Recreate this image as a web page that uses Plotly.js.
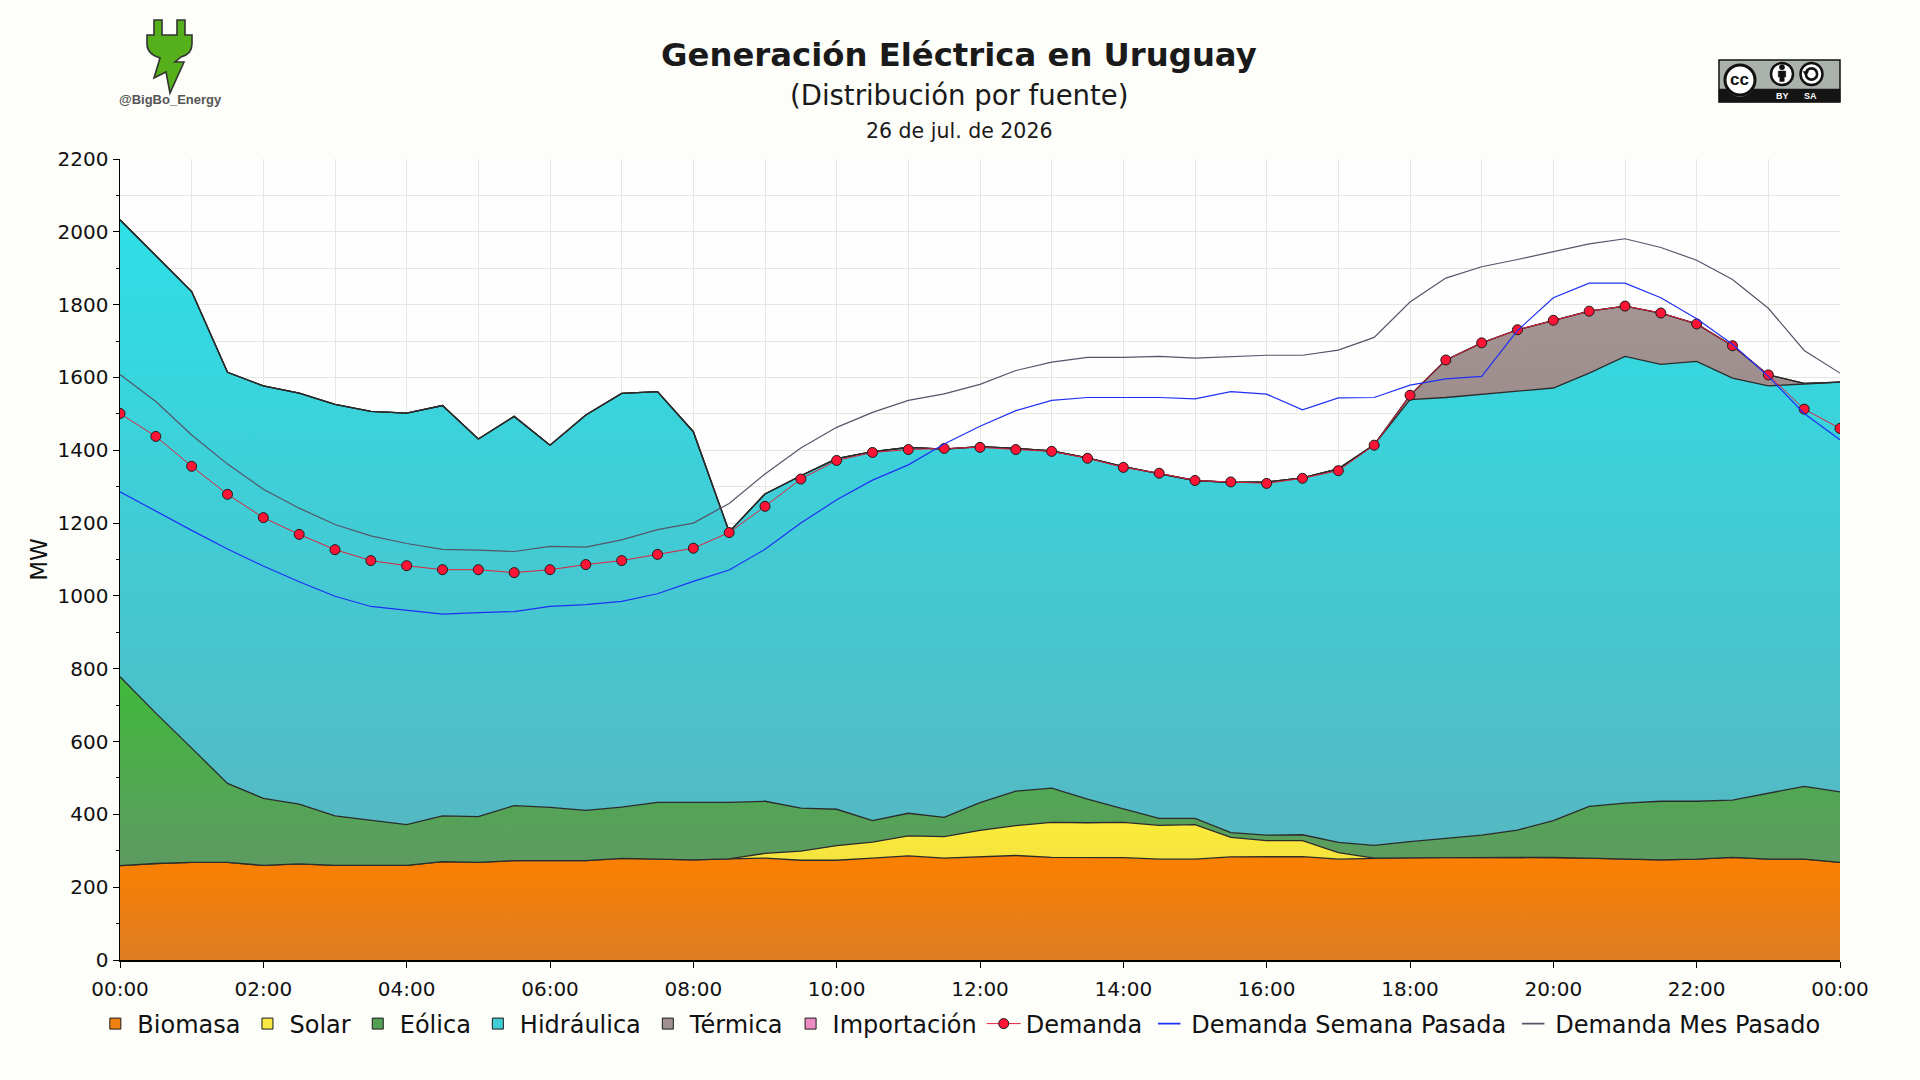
<!DOCTYPE html>
<html>
<head>
<meta charset="utf-8">
<script src="https://cdn.plot.ly/plotly-3.0.1.min.js"></script>
<style>
  html, body { margin: 0; padding: 0; background: #FDFDF9; }
  #chart { width: 1920px; height: 1080px; }
</style>
</head>
<body>
<div id="chart"></div>
<script>
// ---- Data (MW, half-hourly, 26 de jul. de 2026) ----
const horas = ['00:00','00:30','01:00','01:30','02:00','02:30','03:00','03:30','04:00','04:30',
  '05:00','05:30','06:00','06:30','07:00','07:30','08:00','08:30','09:00','09:30',
  '10:00','10:30','11:00','11:30','12:00','12:30','13:00','13:30','14:00','14:30',
  '15:00','15:30','16:00','16:30','17:00','17:30','18:00','18:30','19:00','19:30',
  '20:00','20:30','21:00','21:30','22:00','22:30','23:00','23:30','24:00'];

const biomasa = [259,265,268,268,260,264,260,260,260,270,268,273,273,273,279,277,275,
  278,280,274,274,280,286,280,284,287,282,282,281,277,277,283,284,
  284,277,280,281,282,282,282,282,280,277,275,277,282,277,277,268];

const solar = [0,0,0,0,0,0,0,0,0,0,0,0,0,0,0,0,0,
  0,13,25,40,44,55,59,72,82,96,95,97,93,95,54,44,
  44,18,0,0,0,0,0,0,0,0,0,0,0,0,0,0];

const eolica = [519,413,314,217,184,164,136,123,112,126,126,151,146,138,141,156,158,
  155,143,118,100,59,62,53,76,95,94,65,37,19,17,13,15,
  16,28,35,44,53,61,75,101,142,154,161,159,157,182,200,194];

const hidraulica = [1255,1257,1254,1129,1133,1129,1130,1124,1130,1127,1037,1069,995,1086,1136,1128,1018,
  743,844,913,963,1013,1005,1011,978,941,926,937,940,947,928,962,970,
  980,1026,1100,1214,1210,1210,1205,1188,1190,1227,1200,1208,1159,1118,1105,1125];

const termica = [0,0,0,0,0,0,0,0,0,0,0,0,0,0,0,0,0,
  0,0,0,0,0,0,0,0,0,0,0,0,0,0,0,0,
  0,0,0,12,103,142,169,186,170,138,141,103,89,30,2,0];

const importacion = [0,0,0,0,0,0,0,0,0,0,0,0,0,0,0,0,0,
  0,0,0,0,0,0,0,0,0,0,0,0,0,0,0,0,
  0,0,0,0,0,0,0,0,0,0,0,0,0,0,0,0];

const demanda = [1501,1438,1356,1279,1215,1169,1127,1097,1083,1072,1072,1064,1072,1086,1097,1114,1131,
  1174,1246,1321,1372,1394,1402,1405,1408,1402,1397,1378,1353,1337,1317,1313,1309,
  1323,1344,1414,1551,1648,1695,1731,1757,1782,1796,1777,1747,1687,1607,1513,1460];

const demandaSemana = [1286,1232,1180,1129,1082,1039,999,971,960,950,954,957,971,976,985,1006,1040,
  1071,1128,1200,1264,1318,1360,1417,1466,1509,1537,1545,1545,1545,1541,1561,1554,
  1511,1544,1545,1579,1596,1603,1729,1819,1859,1859,1819,1761,1691,1603,1501,1429];

const demandaMes = [1608,1534,1442,1362,1293,1241,1196,1165,1144,1128,1126,1122,1136,1134,1154,1182,1200,
  1254,1335,1406,1463,1504,1537,1555,1581,1619,1642,1655,1655,1658,1653,1658,1661,
  1661,1675,1710,1807,1873,1904,1924,1946,1967,1981,1957,1922,1869,1790,1674,1612];

const tickLabels = ['00:00','02:00','04:00','06:00','08:00','10:00','12:00','14:00','16:00','18:00','20:00','22:00','00:00'];

// ---- Build ----
const x = horas.map(h => parseInt(h.slice(0,2),10) + parseInt(h.slice(3),10)/60);
const tickVals = x.filter((v,i) => i % 4 === 0);

const FONT = 'DejaVu Sans, Verdana, sans-serif';
const edge = {color:'#2b2b2b', width:1.3, shape:'linear'};

function area(name, y, bottom, top, c0, c1){
  return {
    type:'scatter', mode:'lines', name:name, x:x, y:y, stackgroup:'gen',
    line:edge, showlegend:false, legendgroup:name,
    fillgradient:{type:'vertical', start:bottom, stop:top, colorscale:[[0,c0],[1,c1]]},
    hoverinfo:'x+y+name'
  };
}
// legend-only entries (square swatches / short strokes like the original)
function swatch(name, color){
  return {type:'scatter', mode:'markers', name:name, legendgroup:name, x:[null], y:[null],
          marker:{symbol:'square', size:11, color:color, line:{color:'#1a1a1a', width:1}}};
}
function stroke(name, color){
  return {type:'scatter', mode:'markers', name:name, legendgroup:name, x:[null], y:[null],
          marker:{symbol:'line-ew-open', size:16, color:color, line:{color:color, width:1.6}}};
}

const traces = [
  area('Biomasa', biomasa, 0, 290, '#DD7D24', '#FC8000'),
  area('Solar', solar, 260, 380, '#F3E23E', '#FCEC3A'),
  area('Eólica', eolica, 250, 780, '#5E9A62', '#40B93B'),
  area('Hidráulica', hidraulica, 300, 2035, '#55B8C2', '#2EDFE7'),
  area('Térmica', termica, 1500, 1800, '#9C8C8C', '#A49494'),
  area('Importación', importacion, 0, 2200, '#EE8CC4', '#EE8CC4'),
  {type:'scatter', mode:'lines+markers', name:'Demanda', x:x, y:demanda, showlegend:false, legendgroup:'Demanda',
   line:{color:'#E0203C', width:1},
   marker:{symbol:'circle', size:10, color:'#FF1436', line:{color:'#1a1a1a', width:1}}},
  {type:'scatter', mode:'lines', name:'Demanda Semana Pasada', x:x, y:demandaSemana, showlegend:false,
   legendgroup:'Demanda Semana Pasada', line:{color:'#1F30F5', width:1.2}},
  {type:'scatter', mode:'lines', name:'Demanda Mes Pasado', x:x, y:demandaMes, showlegend:false,
   legendgroup:'Demanda Mes Pasado', line:{color:'#55556A', width:1.2}},
  swatch('Biomasa', '#F08010'),
  swatch('Solar', '#F7E843'),
  swatch('Eólica', '#55A055'),
  swatch('Hidráulica', '#40CDD6'),
  swatch('Térmica', '#A09090'),
  swatch('Importación', '#EE8CC4'),
  {type:'scatter', mode:'lines+markers', name:'Demanda', legendgroup:'Demanda', x:[null], y:[null],
   line:{color:'#E0203C', width:1},
   marker:{symbol:'circle', size:10, color:'#FF1436', line:{color:'#1a1a1a', width:1}}},
  stroke('Demanda Semana Pasada', '#1F30F5'),
  stroke('Demanda Mes Pasado', '#55556A')
];

// pixel -> paper helpers for decorations
const L = 120, T = 159, W = 1720, H = 801;
const px = X => +((X - L) / W).toFixed(5);
const py = Y => +((T + H - Y) / H).toFixed(5);
function pathOf(cmds){
  return cmds.map(c => {
    if (c[0] === 'Z') return 'Z';
    if (c[0] === 'Q') return 'Q' + px(c[1]) + ',' + py(c[2]) + ' ' + px(c[3]) + ',' + py(c[4]);
    return c[0] + px(c[1]) + ',' + py(c[2]);
  }).join(' ');
}
function circ(cx, cy, r, fill, lc, lw){
  return {type:'circle', xref:'paper', yref:'paper', x0:px(cx-r), x1:px(cx+r), y0:py(cy+r), y1:py(cy-r),
          fillcolor:fill, line:{color:lc, width:lw}};
}
function rect(x0, y0, x1, y1, fill, lc, lw){
  return {type:'rect', xref:'paper', yref:'paper', x0:px(x0), x1:px(x1), y0:py(y1), y1:py(y0),
          fillcolor:fill, line:{color:lc, width:lw}};
}

const plug = [['M',154,20],['L',162,20],['L',162,35],['L',177,35],['L',177,20],['L',185,20],['L',185,35],
  ['L',192,35],['L',192,44],['Q',192,54,181,57],['L',175,62],['L',184,62],['L',170,93],['L',166,72],
  ['L',154,78],['L',160,58],['Q',147,54,147,44],['L',147,35],['L',154,35],['Z']];

const shapes = [
  {type:'path', xref:'paper', yref:'paper', path:pathOf(plug), fillcolor:'#55B01C', line:{color:'#333333', width:1.6}},
  rect(1719, 60, 1840, 102, '#ABB2AB', '#111111', 1.5),
  rect(1719, 89, 1840, 102, '#141414', '#141414', 0.5),
  circ(1740, 81.5, 15, '#8E948E', '#8E948E', 1),
  circ(1740, 80, 15, '#FFFFFF', '#111111', 3),
  circ(1782, 74, 11, '#FFFFFF', '#111111', 2.5),
  circ(1782, 67.2, 2.6, '#111111', '#111111', 0.5),
  {type:'path', xref:'paper', yref:'paper',
   path:pathOf([['M',1778.3,71],['L',1785.7,71],['L',1785.7,77],['L',1784.2,77],['L',1784.2,81.5],['L',1779.8,81.5],['L',1779.8,77],['L',1778.3,77],['Z']]),
   fillcolor:'#111111', line:{color:'#111111', width:0.5}},
  circ(1811.5, 74, 11, '#FFFFFF', '#111111', 2.5),
  circ(1811.5, 74, 5.6, 'rgba(0,0,0,0)', '#111111', 2.6),
  {type:'path', xref:'paper', yref:'paper',
   path:pathOf([['M',1803.2,71.5],['L',1808.6,71.5],['L',1805.9,75.8],['Z']]),
   fillcolor:'#111111', line:{color:'#111111', width:0.5}}
];

const annotations = [
  {text:'<b>Generación Eléctrica en Uruguay</b>', xref:'paper', yref:'paper', x:px(959), y:py(55),
   xanchor:'center', yanchor:'middle', showarrow:false, font:{family:FONT, size:32.3, color:'#1a1a1a'}},
  {text:'(Distribución por fuente)', xref:'paper', yref:'paper', x:px(959), y:py(95),
   xanchor:'center', yanchor:'middle', showarrow:false, font:{family:FONT, size:27.5, color:'#1a1a1a'}},
  {text:'26 de jul. de 2026', xref:'paper', yref:'paper', x:px(959), y:py(131),
   xanchor:'center', yanchor:'middle', showarrow:false, font:{family:FONT, size:20.5, color:'#1a1a1a'}},
  {text:'<b>@BigBo_Energy</b>', xref:'paper', yref:'paper', x:px(170), y:py(100),
   xanchor:'center', yanchor:'middle', showarrow:false, font:{family:'Liberation Sans, Arial, sans-serif', size:13, color:'#555555'}},
  {text:'<b>cc</b>', xref:'paper', yref:'paper', x:px(1740), y:py(79.5),
   xanchor:'center', yanchor:'middle', showarrow:false, font:{family:'Liberation Sans, Arial, sans-serif', size:17, color:'#111111'}},
  {text:'<b>BY</b>', xref:'paper', yref:'paper', x:px(1782), y:py(96),
   xanchor:'center', yanchor:'middle', showarrow:false, font:{family:'Liberation Sans, Arial, sans-serif', size:9, color:'#FFFFFF'}},
  {text:'<b>SA</b>', xref:'paper', yref:'paper', x:px(1810.5), y:py(96),
   xanchor:'center', yanchor:'middle', showarrow:false, font:{family:'Liberation Sans, Arial, sans-serif', size:9, color:'#FFFFFF'}}
];

const layout = {
  width:1920, height:1080,
  margin:{l:L, r:80, t:T, b:120},
  paper_bgcolor:'#FDFDF9',
  plot_bgcolor:'#FEFEFE',
  font:{family:FONT, size:20, color:'#111111'},
  showlegend:true,
  legend:{orientation:'h', x:-0.0155, xanchor:'left', y:py(1024), yanchor:'middle',
          font:{family:FONT, size:24, color:'#111111'}, bgcolor:'rgba(0,0,0,0)',
          itemwidth:34, traceorder:'normal', tracegroupgap:0, itemclick:false},
  xaxis:{range:[0,24], tickmode:'array', tickvals:tickVals, ticktext:tickLabels,
         showgrid:true, gridcolor:'#E7E7E1', gridwidth:1,
         minor:{dtick:1, showgrid:true, gridcolor:'#E7E7E1', gridwidth:1, ticks:''},
         showline:true, linecolor:'#000000', linewidth:2,
         ticks:'outside', ticklen:6, tickcolor:'#000000', tickwidth:1,
         ticklabelstandoff:4,
         tickfont:{family:FONT, size:20, color:'#111111'}, zeroline:false, fixedrange:true},
  yaxis:{range:[0,2200], dtick:200, tick0:0,
         showgrid:true, gridcolor:'#E7E7E1', gridwidth:1,
         minor:{dtick:100, showgrid:true, gridcolor:'#E7E7E1', gridwidth:1, ticks:'outside', ticklen:3, tickcolor:'#000000'},
         showline:true, linecolor:'#000000', linewidth:1.5,
         ticks:'outside', ticklen:6, tickcolor:'#000000', tickwidth:1,
         tickfont:{family:FONT, size:20, color:'#111111'}, zeroline:false,
         title:{text:'MW', font:{family:FONT, size:23, color:'#111111'}, standoff:3}, fixedrange:true},
  shapes:shapes,
  annotations:annotations,
  hovermode:'x'
};

Plotly.newPlot('chart', traces, layout, {displayModeBar:false, staticPlot:true});
</script>
</body>
</html>
